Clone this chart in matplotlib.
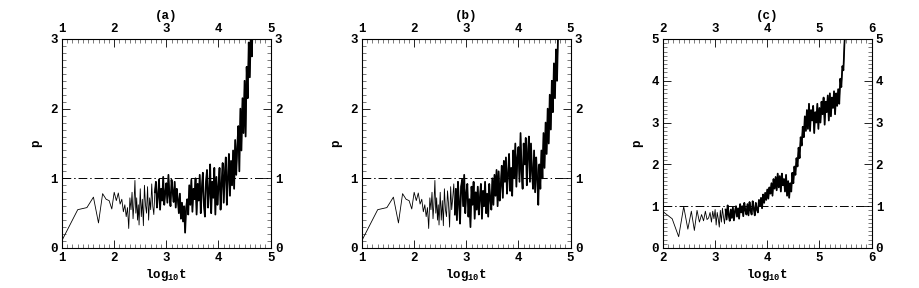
import numpy as np
import matplotlib
matplotlib.use('Agg')
import matplotlib.pyplot as plt
from matplotlib.ticker import MultipleLocator

plt.rcParams['font.family'] = ['Liberation Mono', 'DejaVu Sans Mono']
plt.rcParams['font.weight'] = 'bold'
plt.rcParams['mathtext.fontset'] = 'custom'
plt.rcParams['mathtext.bf'] = 'Liberation Mono:bold'
plt.rcParams['mathtext.rm'] = 'Liberation Mono:bold'

# early, sparsely sampled part (t in steps of 10), shared by panels a and b
t_early_ab = list(range(10, 310, 10))
p_early_ab = [0.11, 0.55, 0.58, 0.73, 0.36, 0.78, 0.70, 0.68, 0.56, 0.80,
              0.68, 0.79, 0.63, 0.70, 0.52, 0.62, 0.45, 0.58, 0.28, 0.72,
              0.55, 0.80, 0.42, 0.65, 0.97, 0.50, 0.72, 0.40, 0.62, 0.33]

# dense part, log10 t from logt0 in steps of 0.02
logt0_a = 2.50
p_dense_a = [0.85, 0.45, 0.70, 0.32, 0.90, 0.62, 0.50, 0.88, 0.40, 0.72, 0.55, 0.92, 0.60, 0.48, 0.80, 0.95,
             0.58, 0.75, 0.98, 0.55, 0.85, 0.68, 1.02, 0.62, 0.80, 0.93,
             0.65, 1.05, 0.75, 0.60, 0.98, 0.82, 0.66, 0.95, 0.58, 0.85,
             0.70, 0.50, 0.78, 0.42, 0.65, 0.38, 0.60, 0.22, 0.58, 0.70,
             0.48, 0.90, 0.62, 0.98, 0.52, 0.85, 0.70, 1.00, 0.48, 0.92,
             0.68, 1.05, 0.50, 0.85, 1.08, 0.62, 0.45, 0.95, 1.12, 0.58,
             0.80, 1.20, 0.50, 0.95, 0.72, 1.15, 0.48, 1.02, 0.62, 0.88,
             1.15, 0.55, 0.92, 1.22, 0.65, 1.05, 1.30, 0.62, 1.00, 1.35,
             0.75, 1.25, 0.90, 1.40, 0.85, 1.55, 1.05, 1.45, 1.75, 1.10,
             2.00, 1.40, 2.15, 1.65, 2.40, 1.60, 2.60, 2.15, 2.95, 2.45,
             3.10, 2.75, 3.40]

logt0_b = 2.50
p_dense_b = [0.80, 0.40, 0.68, 0.32, 0.85, 0.55, 0.45, 0.82, 0.62, 0.30, 0.88, 0.55, 0.72, 0.92, 0.48, 0.85,
             0.40, 0.95, 0.65, 0.35, 0.88, 0.98, 0.60, 1.05, 0.50, 0.78,
             0.92, 0.45, 0.70, 0.30, 0.88, 0.62, 0.95, 0.42, 0.80, 0.55,
             0.88, 0.48, 0.72, 0.92, 0.42, 0.82, 0.60, 0.95, 0.50, 0.78,
             0.45, 0.92, 0.70, 0.55, 1.00, 0.62, 1.05, 0.75, 1.12, 0.60,
             1.10, 0.68, 0.90, 1.18, 0.72, 1.25, 0.95, 1.30, 0.78, 1.05,
             1.35, 0.82, 1.15, 0.75, 1.40, 1.00, 1.50, 0.88, 1.30, 1.45,
             0.95, 1.65, 1.10, 0.85, 1.50, 1.20, 1.58, 0.90, 1.35, 1.60,
             0.95, 1.50, 1.10, 0.85, 1.40, 0.80, 1.30, 1.00, 0.62, 1.20,
             0.85, 1.40, 1.00, 1.65, 1.15, 1.80, 1.35, 2.00, 1.50, 2.20,
             1.70, 2.40, 1.95, 2.65, 2.15, 2.85, 2.40, 3.10, 3.40]

# panel c: t from 100 in steps of 50, then dense from log10 t = 3.02
t_early_c = list(range(100, 1050, 50))
p_early_c = [0.87, 0.70, 0.27, 0.99, 0.45, 0.88, 0.42, 0.90, 0.62, 0.80,
             0.65, 0.88, 0.68, 0.72, 0.85, 0.62, 0.88, 0.70, 0.92]

logt0_c = 3.02
p_dense_c = [0.55, 0.85, 0.70, 0.50, 0.90, 0.62, 0.95, 0.75, 0.58, 0.92,
             0.68, 1.02, 0.80, 0.65, 0.92, 0.72, 0.97, 0.66, 0.88, 1.00,
             0.75, 0.95, 0.70, 1.05, 0.85, 1.00, 0.76, 1.08, 0.90, 0.80,
             1.05, 0.78, 1.10, 0.90, 0.80, 1.12, 0.95, 0.78, 1.08, 0.92,
             0.85, 1.15, 1.00, 1.20, 0.95, 1.28, 1.08, 1.32, 1.15, 1.40,
             1.18, 1.45, 1.30, 1.55, 1.25, 1.65, 1.42, 1.70, 1.38, 1.78,
             1.45, 1.72, 1.35, 1.78, 1.50, 1.65, 1.35, 1.75, 1.25, 1.60,
             1.20, 1.55, 1.35, 1.80, 1.55, 1.95, 1.75, 2.15, 1.95, 2.40,
             2.15, 2.65, 2.45, 2.90, 2.65, 3.15, 2.80, 3.30, 2.85, 3.45,
             2.80, 3.30, 3.05, 3.40, 2.75, 3.25, 3.00, 3.45, 2.85, 3.35,
             3.00, 3.50, 3.20, 3.60, 2.95, 3.50, 3.25, 3.65, 3.05, 3.70,
             3.15, 3.60, 3.35, 3.75, 3.20, 3.70, 3.40, 3.80, 3.45, 4.05,
             3.85, 4.35, 4.25, 4.90, 5.30]

STEP = 0.02

# title, early t, early p, dense start, dense p, xlim, ylim, axes left, where the band gets heavy
panels = [
    ('(a)', t_early_ab, p_early_ab, logt0_a, p_dense_a, (1, 5), (0, 3), 0.0675, 2.78),
    ('(b)', t_early_ab, p_early_ab, logt0_b, p_dense_b, (1, 5), (0, 3), 0.3939, 2.78),
    ('(c)', t_early_c, p_early_c, logt0_c, p_dense_c, (2, 6), (0, 5), 0.7214, 3.20),
]

fig = plt.figure(figsize=(9.19, 2.88), dpi=100)

for title, t_early, p_early, logt0, p_dense, xlim, ylim, left, heavy_from in panels:
    x = np.concatenate([np.log10(t_early), logt0 + STEP * np.arange(len(p_dense))])
    y = np.concatenate([p_early, p_dense])
    heavy = x >= heavy_from

    ax = fig.add_axes([left, 0.1389, 0.2270, 0.7257])
    ax.plot(x, y, color='black', lw=0.6)
    ax.plot(x[heavy], y[heavy], color='black', lw=1.25)
    ax.axhline(1, color='black', lw=0.7, linestyle=(0, (9, 3, 1.5, 3)))
    ax.set_xlim(*xlim)
    ax.set_ylim(*ylim)
    ax.xaxis.set_major_locator(MultipleLocator(1))
    ax.yaxis.set_major_locator(MultipleLocator(1))
    ax.xaxis.set_minor_locator(MultipleLocator(0.1))
    ax.yaxis.set_minor_locator(MultipleLocator(0.1))
    ax.tick_params(which='both', direction='in', top=True, right=True,
                   labeltop=True, labelright=True, width=0.6, labelsize=9, pad=3)
    ax.tick_params(which='major', length=6)
    ax.tick_params(which='minor', length=3, color='#666666')
    for s in ax.spines.values():
        s.set_linewidth(0.8)
    ax.set_xlabel(r'$\mathbf{log}_{\mathbf{10}}\mathbf{t}$', fontsize=9, labelpad=2)
    ax.set_ylabel('p', fontsize=9, fontweight='bold', labelpad=6)
    ax.set_title(title, fontsize=9, fontweight='bold', pad=3)

fig.savefig('out.png', dpi=100)
